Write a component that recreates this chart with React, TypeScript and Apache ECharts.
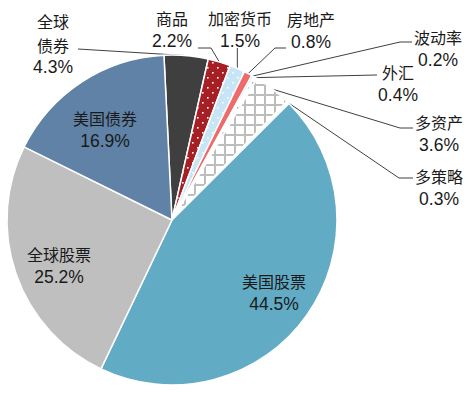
import React, { useEffect, useRef } from 'react';
import * as echarts from 'echarts';

// ---- data ----
const categories = ['全球债券', '商品', '加密货币', '房地产', '波动率', '外汇', '多资产', '多策略', '美国股票', '全球股票', '美国债券'];
const shares = [4.3, 2.2, 1.5, 0.8, 0.2, 0.4, 3.6, 0.3, 44.5, 25.2, 16.9];
const labelTitles = ['全球\n债券', '商品', '加密货币', '房地产', '波动率', '外汇', '多资产', '多策略', '美国股票', '全球股票', '美国债券'];
const insideLabels = ['美国股票', '全球股票', '美国债券'];

// ---- layout / style (not data) ----
const CENTER = [172, 220];
const RADIUS = 165;
const START_ANGLE = 92.8;

const labelPlace: Record<string, { x: number; y: number; line?: number[][] }> = {
  '全球债券': { x: 53, y: 9, line: [[78, 49]] },
  '商品': { x: 172, y: 6.5, line: [[211, 48], [198, 48]] },
  '加密货币': { x: 240, y: 6, line: [[238, 48]] },
  '房地产': { x: 311, y: 7, line: [[275, 48], [286, 48]] },
  '波动率': { x: 438, y: 25.5, line: [[400, 42], [412, 42]] },
  '外汇': { x: 398, y: 60.5, line: [[377, 75]] },
  '多资产': { x: 439, y: 110.5, line: [[400, 128], [413, 128]] },
  '多策略': { x: 439, y: 164.5, line: [[399, 178], [413, 178]] },
  '美国股票': { x: 274, y: 269.5 },
  '全球股票': { x: 59, y: 242 },
  '美国债券': { x: 105, y: 106.5 },
};

function dots(bg: string, fg: string) {
  const c = document.createElement('canvas');
  c.width = 10; c.height = 10;
  const g = c.getContext('2d')!;
  g.fillStyle = bg; g.fillRect(0, 0, 10, 10);
  g.fillStyle = fg;
  g.fillRect(2, 2, 1.6, 1.6);
  g.fillRect(7, 7, 1.6, 1.6);
  return { image: c, repeat: 'repeat', imageWidth: 10, imageHeight: 10 };
}

function hatch(bg: string, fg: string) {
  const c = document.createElement('canvas');
  c.width = 10; c.height = 10;
  const g = c.getContext('2d')!;
  g.fillStyle = bg; g.fillRect(0, 0, 10, 10);
  g.fillStyle = fg;
  g.fillRect(4, 0, 2, 10);
  g.fillRect(0, 4, 10, 2);
  return { image: c, repeat: 'repeat', imageWidth: 10, imageHeight: 10 };
}

export default function App() {
  const ref = useRef<HTMLDivElement>(null);
  useEffect(() => {
    if (!ref.current) return;
    const chart = echarts.init(ref.current, null, { renderer: 'svg' });

    const colors: Record<string, any> = {
      '全球债券': '#3f3f3f',
      '商品': dots('#a51f24', '#ffffff'),
      '加密货币': dots('#c7e5f5', '#ffffff'),
      '房地产': '#ef6a6a',
      '波动率': '#bcd9ea',
      '外汇': dots('#ffffff', '#8fb3d0'),
      '多资产': hatch('#ffffff', '#bdbdbd'),
      '多策略': '#ffffff',
      '美国股票': '#62abc5',
      '全球股票': '#bfbfbf',
      '美国债券': '#5f82a6',
    };

    const data = categories.map((name, i) => {
      const inside = insideLabels.includes(name);
      return {
        name,
        value: shares[i],
        itemStyle: { color: colors[name] },
        label: { position: inside ? 'inside' : 'outside' },
        labelLine: { show: !inside },
      };
    });

    const option = {
      animation: false,
      series: [
        {
          type: 'pie',
          center: CENTER,
          radius: RADIUS,
          startAngle: START_ANGLE,
          clockwise: true,
          avoidLabelOverlap: false,
          itemStyle: { borderColor: '#ffffff', borderWidth: 1.5 },
          label: {
            show: true,
            formatter: (p: any) => {
              const i = categories.indexOf(p.name);
              const titleLines = labelTitles[i].split('\n');
              const pct = `${shares[i].toFixed(1)}%`;
              if (titleLines.length > 1) {
                return titleLines.map((t) => `{a2|${t}}`).join('\n') + `\n{c|${pct}}`;
              }
              return `{a|${titleLines[0]}}\n{b|${pct}}`;
            },
            rich: {
              a: { fontFamily: 'Noto Sans CJK SC', fontSize: 16, lineHeight: 23, color: '#1a1a1a', align: 'center' },
              a2: { fontFamily: 'Noto Sans CJK SC', fontSize: 16, lineHeight: 24, color: '#1a1a1a', align: 'center' },
              b: { fontFamily: 'Liberation Sans, Arial', fontSize: 17.5, lineHeight: 23, color: '#1a1a1a', align: 'center' },
              c: { fontFamily: 'Liberation Sans, Arial', fontSize: 17.5, lineHeight: 20, color: '#1a1a1a', align: 'center' },
            },
          },
          labelLine: {
            show: true,
            length: 10,
            length2: 10,
            lineStyle: { color: '#404040', width: 1 },
          },
          labelLayout: (params: any) => {
            const name = categories[params.dataIndex];
            const place = labelPlace[name];
            if (!place) return {};
            const res: any = { x: place.x, y: place.y, align: 'center', verticalAlign: 'top' };
            if (place.line && params.labelLinePoints && params.labelLinePoints[0]) {
              const anchor = params.labelLinePoints[0];
              const pts = place.line.map((p) => p.slice());
              if (name === '加密货币') pts[0][0] = anchor[0];
              res.labelLinePoints = [anchor, ...pts];
            }
            return res;
          },
          data,
        },
      ],
    };
    chart.setOption(option as any);
    return () => chart.dispose();
  }, []);

  return (
    <div
      ref={ref}
      style={{ position: 'fixed', left: 0, top: 0, width: 474, height: 393, background: '#ffffff' }}
    />
  );
}
